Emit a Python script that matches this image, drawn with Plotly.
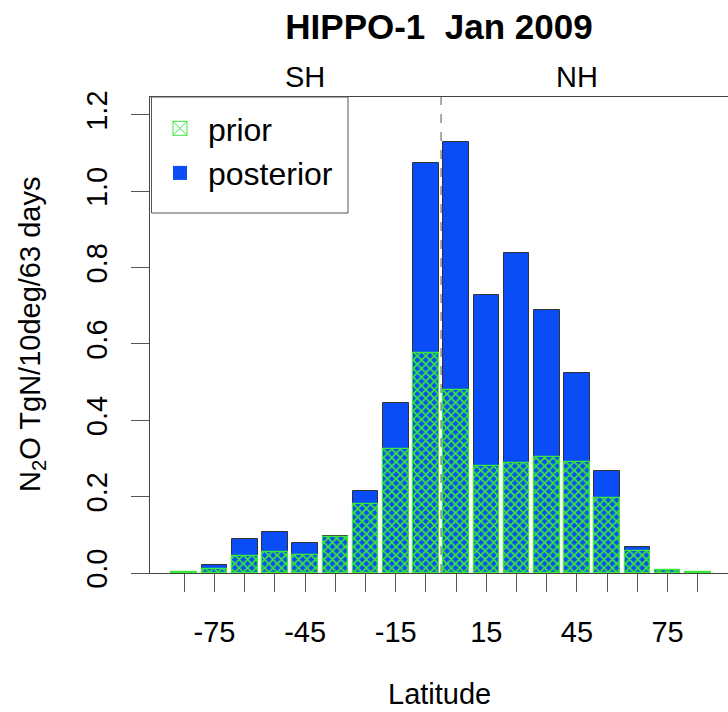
import plotly.graph_objects as go

# ---- data ----
latitudes = [-85, -75, -65, -55, -45, -35, -25, -15, -5, 5, 15, 25, 35, 45, 55, 65, 75, 85]
posterior = [0.002, 0.020, 0.088, 0.108, 0.079, 0.098, 0.216, 0.446, 1.074, 1.129,
             0.728, 0.838, 0.689, 0.524, 0.267, 0.069, 0.006, 0.002]
prior = [0.003, 0.010, 0.045, 0.056, 0.046, 0.094, 0.180, 0.325, 0.577, 0.479,
         0.280, 0.287, 0.305, 0.290, 0.197, 0.057, 0.007, 0.003]
labeled_ticks = [-75, -45, -15, 15, 45, 75]
y_ticks = [0.0, 0.2, 0.4, 0.6, 0.8, 1.0, 1.2]
hemispheres = [("SH", -45), ("NH", 45)]

FONT = "Liberation Sans, Arial, Helvetica, sans-serif"
BLUE = "#0a4cf5"
GREEN = "#3ae83a"
W, H = 728, 712
L, R, T, B = 150, 0, 97, 139
PW, PH = W - L - R, H - T - B

def px_x(p):
    return (p - L) / PW

def px_y(p):
    return (H - B - p) / PH

fig = go.Figure()
fig.add_trace(go.Bar(x=latitudes, y=posterior, width=8.5, marker=dict(color=BLUE, line=dict(color="#333333", width=1)),
                     showlegend=False, name="posterior"))
fig.add_trace(go.Bar(x=latitudes, y=prior, width=8.5,
                     marker=dict(color=BLUE, line=dict(color=GREEN, width=1.2),
                                 pattern=dict(shape="x", fgcolor=GREEN, size=6, solidity=0.5, fgopacity=1)),
                     showlegend=False, name="prior"))
# legend entries
fig.add_trace(go.Scatter(x=[None], y=[None], mode="markers", name="prior",
                         marker=dict(symbol="square-x-open", size=14, color=GREEN, line=dict(width=1, color=GREEN))))
fig.add_trace(go.Scatter(x=[None], y=[None], mode="markers", name="posterior",
                         marker=dict(symbol="square", size=14, color=BLUE)))

ticktext = [str(v) if v in labeled_ticks else "" for v in latitudes]

fig.update_layout(
    width=W, height=H, margin=dict(l=L, r=R, t=T, b=B),
    paper_bgcolor="white", plot_bgcolor="white",
    barmode="overlay", bargap=0,
    font=dict(family=FONT, size=29, color="black"),
    title=dict(text="<b>HIPPO-1  Jan 2009</b>", x=(L + (W - R)) / 2 / W, xanchor="center",
               y=1 - 27 / H, yanchor="middle", yref="container",
               font=dict(size=35, family=FONT, color="black")),
    xaxis=dict(range=[-96.36, 95.0], tickmode="array", tickvals=latitudes, ticktext=ticktext,
               ticks="outside", ticklen=18, tickcolor="#555555", tickwidth=1,
               showline=True, linecolor="#444444", linewidth=1, mirror=True,
               showgrid=False, zeroline=False, ticklabelstandoff=15,
               tickfont=dict(size=29)),
    yaxis=dict(range=[0, 1.247], tickmode="array", tickvals=y_ticks,
               ticktext=[f"{v:.1f}" for v in y_ticks], tickangle=-90,
               ticks="outside", ticklen=18, tickcolor="#555555",
               showline=True, linecolor="#444444", linewidth=1,
               showgrid=False, zeroline=False, ticklabelstandoff=12,
               tickfont=dict(size=29)),
    legend=dict(x=px_x(152), y=px_y(101), xanchor="left", yanchor="top", bgcolor="rgba(0,0,0,0)",
                borderwidth=0, font=dict(size=32), itemwidth=46),
    showlegend=True,
)

# legend frame
fig.add_shape(type="rect", xref="paper", yref="paper", x0=px_x(151.5), x1=px_x(348), y0=px_y(213), y1=1,
              line=dict(color="#555555", width=1), fillcolor="white", layer="above")

# equator dashed line
fig.add_shape(type="line", x0=0, x1=0, y0=0, y1=1, xref="x", yref="paper",
              line=dict(color="#555555", width=1, dash="dash"), layer="above")

for name, pos in hemispheres:
    fig.add_annotation(text=name, x=pos, xref="x", y=1, yref="paper", yanchor="bottom",
                       yshift=2, showarrow=False, font=dict(size=29))

fig.add_annotation(text="Latitude", x=0.5, xref="paper", y=px_y(694), yref="paper",
                   yanchor="middle", showarrow=False, font=dict(size=29))
fig.add_annotation(text="N<sub>2</sub>O TgN/10deg/63 days", textangle=-90,
                   x=px_x(32), xref="paper", y=0.5, yref="paper",
                   xanchor="center", yanchor="middle", showarrow=False, font=dict(size=29))

fig.write_html("out.html")
